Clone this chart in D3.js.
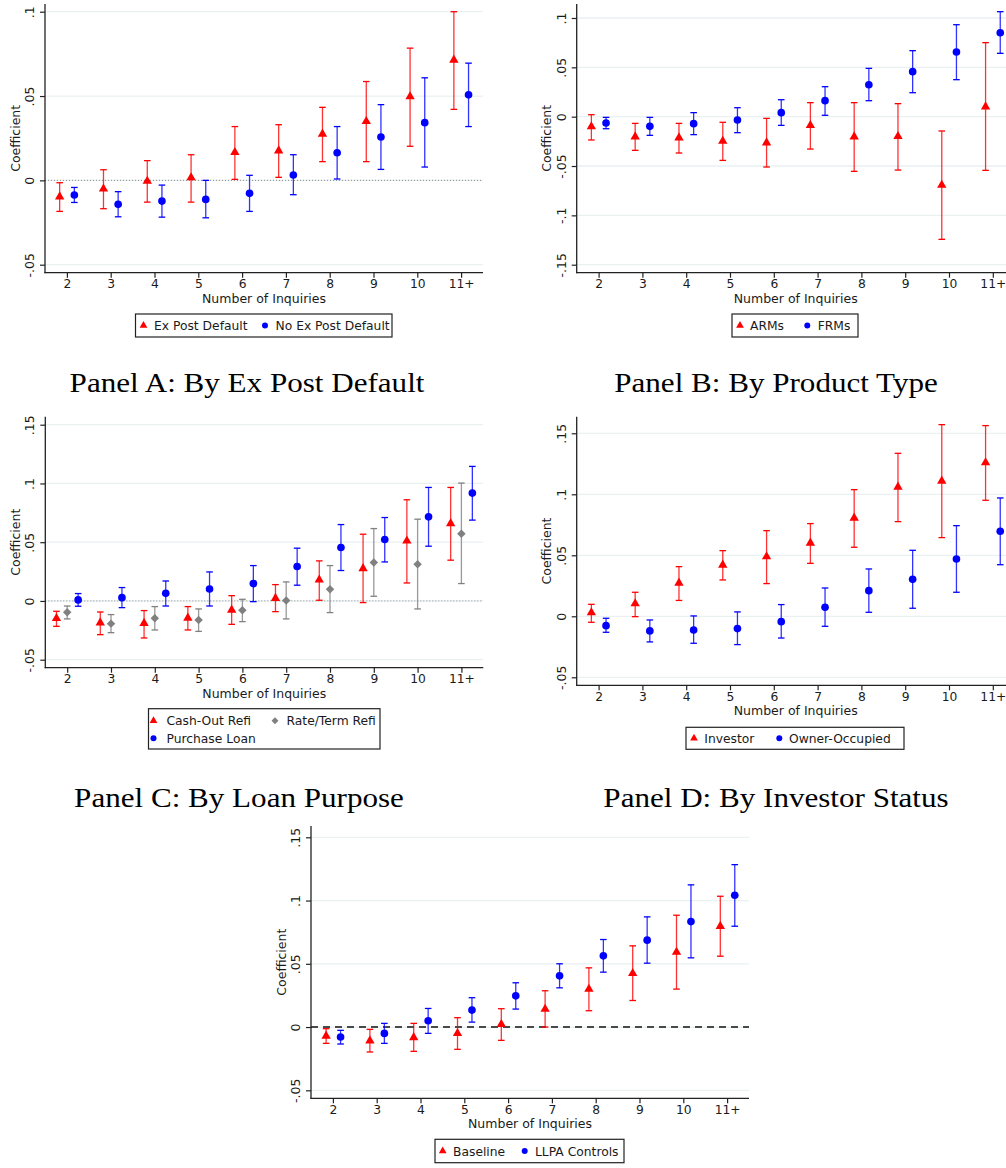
<!DOCTYPE html>
<html>
<head>
<meta charset="utf-8">
<script src="https://cdn.jsdelivr.net/npm/d3@7"></script>
<style>
  html, body { margin: 0; padding: 0; background: #fff; }
  svg { display: block; }
  text { font-family: "DejaVu Sans", sans-serif; fill: #1a1a1a; }
  .ptitle { font-family: "Liberation Serif", "Times New Roman", serif; fill: #000; }
</style>
</head>
<body>
<svg id="chart" width="1006" height="1168"></svg>
<script>
// ---------- DATA ----------
const categories = ["2", "3", "4", "5", "6", "7", "8", "9", "10", "11+"];

// Panel A: By Ex Post Default
const exPostDefaultCoef = [-0.0097, -0.005, -0.0004, 0.0016, 0.0166, 0.0176, 0.0275, 0.035, 0.0497, 0.0714];
const exPostDefaultLo   = [-0.0184, -0.0168, -0.0129, -0.0129, 0.0006, 0.0018, 0.0111, 0.0111, 0.0202, 0.0421];
const exPostDefaultHi   = [-0.0014, 0.0063, 0.0117, 0.0152, 0.0319, 0.033, 0.0433, 0.0586, 0.0784, 0.1];
const noDefaultCoef = [-0.0087, -0.0142, -0.0123, -0.0113, -0.0077, 0.0032, 0.0164, 0.0257, 0.0342, 0.0507];
const noDefaultLo   = [-0.0131, -0.0216, -0.0218, -0.0222, -0.0184, -0.0085, 0.0008, 0.0065, 0.0079, 0.0319];
const noDefaultHi   = [-0.0042, -0.0067, -0.0028, 0, 0.003, 0.0152, 0.0319, 0.0449, 0.0608, 0.0695];

// Panel B: By Product Type
const armsCoef = [-0.0101, -0.0203, -0.0213, -0.0247, -0.0264, -0.0088, -0.0203, -0.0199, -0.0693, 0.0101];
const armsLo   = [-0.0236, -0.0341, -0.0368, -0.0443, -0.051, -0.0328, -0.0554, -0.0541, -0.1243, -0.0544];
const armsHi   = [0.002, -0.0068, -0.0068, -0.0057, -0.0017, 0.0142, 0.0142, 0.0132, -0.0145, 0.075];
const frmsCoef = [-0.0064, -0.0098, -0.0071, -0.0034, 0.0041, 0.0162, 0.0324, 0.0456, 0.0655, 0.0851];
const frmsLo   = [-0.0122, -0.0189, -0.0182, -0.0162, -0.0088, 0.0014, 0.0162, 0.0243, 0.0375, 0.0642];
const frmsHi   = [-0.0007, -0.0007, 0.0041, 0.0091, 0.0172, 0.0304, 0.049, 0.0669, 0.0932, 0.1064];

// Panel C: By Loan Purpose
const cashOutCoef = [-0.0148, -0.0185, -0.019, -0.0145, -0.0077, 0.0023, 0.0179, 0.0276, 0.0511, 0.0659];
const cashOutLo   = [-0.0216, -0.0287, -0.0315, -0.0247, -0.0199, -0.0091, 0.0006, -0.0014, 0.0153, 0.0347];
const cashOutHi   = [-0.0088, -0.0094, -0.0082, -0.0048, 0.0045, 0.0139, 0.0341, 0.0568, 0.0861, 0.0966];
const rateTermCoef = [-0.0097, -0.0193, -0.0148, -0.0162, -0.008, 0.0003, 0.0099, 0.0327, 0.0313, 0.0571];
const rateTermLo   = [-0.0153, -0.027, -0.0247, -0.0259, -0.0176, -0.0153, -0.0099, 0.004, -0.0068, 0.0148];
const rateTermHi   = [-0.0043, -0.0116, -0.0048, -0.0068, 0.0014, 0.0162, 0.0301, 0.0616, 0.0696, 0.1003];
const purchaseCoef = [0.0009, 0.0028, 0.0065, 0.0102, 0.0148, 0.0293, 0.0455, 0.0523, 0.0716, 0.0918];
const purchaseLo   = [-0.0045, -0.0057, -0.0043, -0.0043, -0.0006, 0.0134, 0.0259, 0.0332, 0.0466, 0.0688];
const purchaseHi   = [0.0063, 0.0114, 0.017, 0.0247, 0.0301, 0.0449, 0.065, 0.071, 0.0966, 0.1145];

// Panel D: By Investor Status
const investorCoef = [0.003, 0.0104, 0.0273, 0.0421, 0.0489, 0.0601, 0.0806, 0.106, 0.1109, 0.126];
const investorLo   = [-0.0049, -0.0003, 0.013, 0.0298, 0.0268, 0.0434, 0.0566, 0.0776, 0.0645, 0.0951];
const investorHi   = [0.0098, 0.0197, 0.0407, 0.0538, 0.0702, 0.076, 0.1038, 0.1336, 0.1571, 0.1563];
const ownerCoef = [-0.0077, -0.012, -0.0112, -0.0101, -0.0044, 0.0074, 0.021, 0.0303, 0.047, 0.0697];
const ownerLo   = [-0.0131, -0.021, -0.0221, -0.0232, -0.0178, -0.0082, 0.0033, 0.0066, 0.0197, 0.0423];
const ownerHi   = [-0.0016, -0.003, 0.0003, 0.0036, 0.0096, 0.0232, 0.0388, 0.0541, 0.0743, 0.097];

// Panel E: Baseline vs LLPA Controls
const baselineCoef = [-0.0071, -0.0108, -0.0082, -0.005, 0.0021, 0.0142, 0.03, 0.0424, 0.0592, 0.0797];
const baselineLo   = [-0.0129, -0.0197, -0.0192, -0.0176, -0.0105, 0, 0.0129, 0.021, 0.03, 0.056];
const baselineHi   = [-0.0013, -0.0018, 0.0029, 0.0074, 0.0145, 0.0287, 0.0468, 0.0642, 0.0884, 0.1034];
const llpaCoef = [-0.0079, -0.005, 0.005, 0.0134, 0.0247, 0.0405, 0.0563, 0.0687, 0.0834, 0.1042];
const llpaLo   = [-0.0134, -0.0129, -0.005, 0.0039, 0.0142, 0.031, 0.0434, 0.0505, 0.0547, 0.0797];
const llpaHi   = [-0.0026, 0.0029, 0.0147, 0.0232, 0.035, 0.05, 0.0692, 0.0871, 0.1124, 0.1284];

// Tick values
const yTicksA = [-0.05, 0, 0.05, 0.1];
const yTicksB = [-0.15, -0.1, -0.05, 0, 0.05, 0.1];
const yTicksC = [-0.05, 0, 0.05, 0.1, 0.15];
const yTicksD = [-0.05, 0, 0.05, 0.1, 0.15];
const yTicksE = [-0.05, 0, 0.05, 0.1, 0.15];

const xTitle = "Number of Inquiries";
const yTitle = "Coefficient";

// ---------- STYLE ----------
const RED = "#ff0000", BLUE = "#0000ff", GRAY = "#808080";
const svg = d3.select("#chart");

const fmtTick = v => {
  if (v === 0) return "0";
  let s = String(+v.toFixed(4));
  return s.replace("0.", ".");
};

const sym = {
  triangle: d3.symbol().type(d3.symbolTriangle).size(38),
  circle: d3.symbol().type(d3.symbolCircle).size(46),
  diamond: d3.symbol().type(d3.symbolSquare).size(36),
  triangleL: d3.symbol().type(d3.symbolTriangle).size(26),
  circleL: d3.symbol().type(d3.symbolCircle).size(28),
  diamondL: d3.symbol().type(d3.symbolSquare).size(24)
};

function drawPanel(cfg) {
  const g = svg.append("g");
  const x = d3.scaleLinear().domain([-0.5, categories.length - 0.5]).range([cfg.left, cfg.left + 438]);
  const y = d3.scaleLinear().domain([d3.min(cfg.ticks), d3.max(cfg.ticks)]).range([cfg.yMinPx, cfg.yMaxPx]);
  const xEnd = cfg.left + 438;

  // gridlines
  g.append("g").selectAll("line").data(cfg.ticks).join("line")
    .attr("x1", cfg.left).attr("x2", xEnd)
    .attr("y1", d => y(d)).attr("y2", d => y(d))
    .attr("stroke", "#e9f1f3").attr("stroke-width", 1.3);

  // zero reference line
  if (cfg.zero === "dotted") {
    g.append("line").attr("x1", cfg.left).attr("x2", xEnd)
      .attr("y1", y(0)).attr("y2", y(0))
      .attr("stroke", "#8a8a8a").attr("stroke-width", 1).attr("stroke-dasharray", "1,2");
  } else if (cfg.zero === "dashed") {
    g.append("line").attr("x1", cfg.left).attr("x2", xEnd)
      .attr("y1", y(0)).attr("y2", y(0))
      .attr("stroke", "#111").attr("stroke-width", 1.5).attr("stroke-dasharray", "7,5");
  }

  // y axis
  const yAxis = d3.axisLeft(y).tickValues(cfg.ticks).tickFormat(fmtTick).tickSize(5).tickSizeOuter(0);
  const ya = g.append("g").attr("transform", `translate(${cfg.left},0)`).call(yAxis);
  ya.select(".domain").remove();
  ya.selectAll(".tick line").attr("stroke", "#222").attr("stroke-width", 1.2);
  ya.selectAll(".tick text")
    .attr("x", null).attr("dy", null)
    .attr("transform", "translate(-11,0) rotate(-90)")
    .attr("text-anchor", "middle")
    .style("font-size", "12.5px").style("font-family", "DejaVu Sans").attr("fill", "#1a1a1a");
  g.append("line").attr("x1", cfg.left).attr("x2", cfg.left)
    .attr("y1", cfg.axisTop).attr("y2", cfg.axisBottom + 0.6)
    .attr("stroke", "#222").attr("stroke-width", 1.3);

  // x axis
  const xAxis = d3.axisBottom(x).tickValues(d3.range(categories.length))
    .tickFormat(i => categories[i]).tickSize(5).tickSizeOuter(0);
  const xa = g.append("g").attr("transform", `translate(0,${cfg.axisBottom})`).call(xAxis);
  xa.select(".domain").remove();
  xa.selectAll(".tick line").attr("stroke", "#222").attr("stroke-width", 1.2);
  xa.selectAll(".tick text").attr("y", 15.5).attr("dy", null)
    .style("font-size", "12.3px").style("font-family", "DejaVu Sans").attr("fill", "#1a1a1a");
  g.append("line").attr("x1", cfg.left - 0.6).attr("x2", xEnd)
    .attr("y1", cfg.axisBottom).attr("y2", cfg.axisBottom)
    .attr("stroke", "#222").attr("stroke-width", 1.3);

  // axis titles
  g.append("text").attr("x", (cfg.left + xEnd) / 2).attr("y", cfg.axisBottom + 30)
    .attr("text-anchor", "middle").style("font-size", "12.5px").text(xTitle);
  g.append("text")
    .attr("transform", `translate(${cfg.left - 25.5},${(cfg.axisTop + cfg.axisBottom) / 2}) rotate(-90)`)
    .attr("text-anchor", "middle").style("font-size", "12.5px").text(yTitle);

  // series
  cfg.series.forEach(s => {
    const sg = g.append("g");
    const pts = categories.map((c, i) => ({ i, v: s.coef[i], lo: s.lo[i], hi: s.hi[i] }));
    const cx = d => x(d.i + s.offset);
    sg.selectAll("line.bar").data(pts).join("line").attr("class", "bar")
      .attr("x1", cx).attr("x2", cx).attr("y1", d => y(d.lo)).attr("y2", d => y(d.hi))
      .attr("stroke", s.color).attr("stroke-width", 1.3).attr("stroke-opacity", 0.8);
    ["lo", "hi"].forEach(k => {
      sg.selectAll("line.cap" + k).data(pts).join("line").attr("class", "cap" + k)
        .attr("x1", d => cx(d) - 3.3).attr("x2", d => cx(d) + 3.3)
        .attr("y1", d => y(d[k])).attr("y2", d => y(d[k]))
        .attr("stroke", s.color).attr("stroke-width", 1.3);
    });
    sg.selectAll("path").data(pts).join("path")
      .attr("d", sym[s.marker]())
      .attr("transform", d => `translate(${cx(d)},${y(d.v)})` + (s.marker === "diamond" ? " rotate(45)" : ""))
      .attr("fill", s.color);
  });

  // legend
  const L = cfg.legend;
  g.append("rect").attr("x", L.x).attr("y", L.y).attr("width", L.w).attr("height", L.h)
    .attr("fill", "#fff").attr("stroke", "#222").attr("stroke-width", 1.2);
  L.items.forEach(it => {
    const s = cfg.series[it.s];
    g.append("path").attr("d", sym[s.marker + "L"]())
      .attr("transform", `translate(${it.sx},${it.by - 4.5})` + (s.marker === "diamond" ? " rotate(45)" : ""))
      .attr("fill", s.color);
    g.append("text").attr("x", it.tx).attr("y", it.by).style("font-size", "12.3px").text(s.name);
  });

  // panel title
  if (cfg.title) {
    g.append("text").attr("class", "ptitle")
      .attr("transform", `translate(${cfg.title.x},${cfg.title.y}) scale(1.11,1)`)
      .attr("text-anchor", "middle").style("font-size", "28px").text(cfg.title.text);
  }
}

// ---------- PANELS ----------
drawPanel({
  left: 45, axisTop: 4, axisBottom: 272.7, ticks: yTicksA, yMinPx: 264.7, yMaxPx: 11.7, zero: "dotted",
  series: [
    { name: "Ex Post Default", coef: exPostDefaultCoef, lo: exPostDefaultLo, hi: exPostDefaultHi, color: RED, marker: "triangle", offset: -0.165 },
    { name: "No Ex Post Default", coef: noDefaultCoef, lo: noDefaultLo, hi: noDefaultHi, color: BLUE, marker: "circle", offset: 0.17 }
  ],
  legend: { x: 135.5, y: 314, w: 256.5, h: 23, items: [
    { s: 0, sx: 143.5, tx: 154, by: 330 }, { s: 1, sx: 265, tx: 275.5, by: 330 } ] },
  title: { text: "Panel A: By Ex Post Default", x: 247, y: 392 }
});

drawPanel({
  left: 576.7, axisTop: 4, axisBottom: 272.7, ticks: yTicksB, yMinPx: 264.7, yMaxPx: 18, zero: null,
  series: [
    { name: "ARMs", coef: armsCoef, lo: armsLo, hi: armsHi, color: RED, marker: "triangle", offset: -0.165 },
    { name: "FRMs", coef: frmsCoef, lo: frmsLo, hi: frmsHi, color: BLUE, marker: "circle", offset: 0.17 }
  ],
  legend: { x: 732, y: 314, w: 126, h: 23, items: [
    { s: 0, sx: 740, tx: 750, by: 330 }, { s: 1, sx: 807.3, tx: 817.7, by: 330 } ] },
  title: { text: "Panel B: By Product Type", x: 776, y: 392 }
});

drawPanel({
  left: 45.3, axisTop: 416.7, axisBottom: 667.7, ticks: yTicksC, yMinPx: 659.7, yMaxPx: 424.7, zero: "dotted",
  series: [
    { name: "Cash-Out Refi", coef: cashOutCoef, lo: cashOutLo, hi: cashOutHi, color: RED, marker: "triangle", offset: -0.245 },
    { name: "Rate/Term Refi", coef: rateTermCoef, lo: rateTermLo, hi: rateTermHi, color: GRAY, marker: "diamond", offset: 0 },
    { name: "Purchase Loan", coef: purchaseCoef, lo: purchaseLo, hi: purchaseHi, color: BLUE, marker: "circle", offset: 0.25 }
  ],
  legend: { x: 148.5, y: 708.7, w: 231.5, h: 40.3, items: [
    { s: 0, sx: 153.5, tx: 166.5, by: 725.2 }, { s: 1, sx: 275, tx: 286.5, by: 725.2 },
    { s: 2, sx: 153.5, tx: 166.5, by: 742.8 } ] },
  title: { text: "Panel C: By Loan Purpose", x: 239, y: 807 }
});

drawPanel({
  left: 576.7, axisTop: 416.7, axisBottom: 685.3, ticks: yTicksD, yMinPx: 677.3, yMaxPx: 433.3, zero: null,
  series: [
    { name: "Investor", coef: investorCoef, lo: investorLo, hi: investorHi, color: RED, marker: "triangle", offset: -0.165 },
    { name: "Owner-Occupied", coef: ownerCoef, lo: ownerLo, hi: ownerHi, color: BLUE, marker: "circle", offset: 0.17 }
  ],
  legend: { x: 686, y: 727.3, w: 218, h: 22, items: [
    { s: 0, sx: 694, tx: 704.3, by: 742.8 }, { s: 1, sx: 779.3, tx: 789, by: 742.8 } ] },
  title: { text: "Panel D: By Investor Status", x: 776, y: 807 }
});

drawPanel({
  left: 311, axisTop: 826, axisBottom: 1098.3, ticks: yTicksE, yMinPx: 1090.3, yMaxPx: 837.3, zero: "dashed",
  series: [
    { name: "Baseline", coef: baselineCoef, lo: baselineLo, hi: baselineHi, color: RED, marker: "triangle", offset: -0.155 },
    { name: "LLPA Controls", coef: llpaCoef, lo: llpaLo, hi: llpaHi, color: BLUE, marker: "circle", offset: 0.175 }
  ],
  legend: { x: 435, y: 1139.3, w: 189, h: 23.4, items: [
    { s: 0, sx: 442.7, tx: 453, by: 1155.5 }, { s: 1, sx: 524.7, tx: 535, by: 1155.5 } ] },
  title: null
});
</script>
</body>
</html>
